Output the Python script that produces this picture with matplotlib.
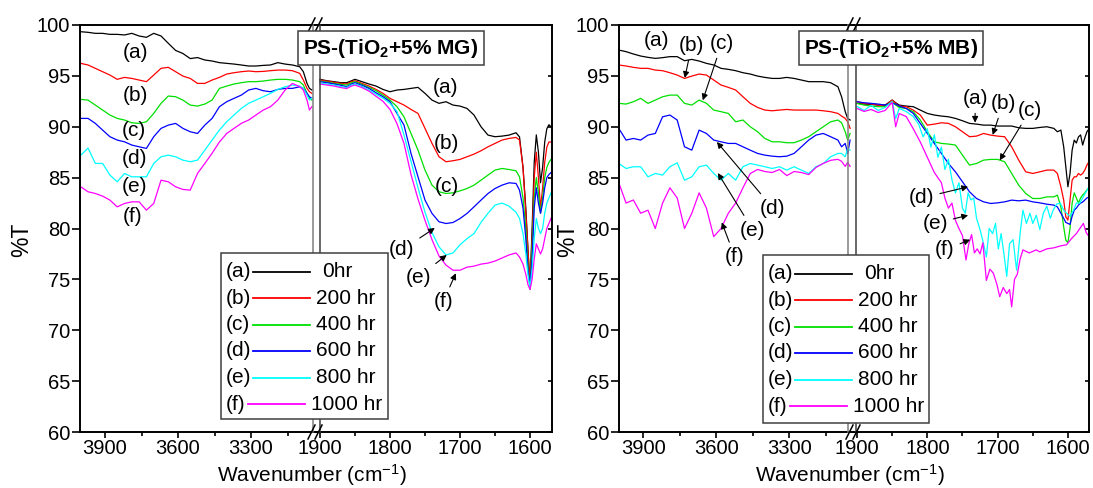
import matplotlib.pyplot as plt
from matplotlib.lines import Line2D
from matplotlib.patches import Rectangle

plt.rcParams['font.family'] = ['Liberation Sans', 'DejaVu Sans']
plt.rcParams['mathtext.fontset'] = 'custom'
plt.rcParams['mathtext.rm'] = 'Liberation Sans'
plt.rcParams['mathtext.it'] = 'Liberation Sans:italic'
plt.rcParams['mathtext.bf'] = 'Liberation Sans:bold'

#----------------------------------------------------------------------------
# FTIR spectra of PS-(TiO2+5% MG) and PS-(TiO2+5% MB) films, values read off
# the original figure. Left part 4000-3050 cm-1, right part 1900-1570 cm-1
#----------------------------------------------------------------------------
tags = ['(a)', '(b)', '(c)', '(d)', '(e)', '(f)']
hours = ['0hr', '200 hr', '400 hr', '600 hr', '800 hr', '1000 hr']
colors = ['black', 'red', '#00e000', 'blue', 'cyan', 'magenta']

wn_left = [4000, 3970, 3940, 3910, 3880, 3850, 3820, 3790, 3760, 3730, 3700, 3670,
           3640, 3610, 3580, 3550, 3520, 3490, 3460, 3430, 3400, 3370, 3340, 3310,
           3280, 3250, 3220, 3190, 3160, 3130, 3100, 3085, 3070, 3060, 3050]

# ---- PS-(TiO2+5% MG) ----
mg_l_a = [99.34, 99.28, 99.18, 99.18, 99.08, 99.08, 99.02, 99.18, 98.92, 98.79, 99.18, 98.92,
          98.20, 97.50, 97.20, 96.70, 96.80, 96.56, 96.46, 96.30, 96.23, 96.16, 96.07, 95.97,
          95.97, 96.03, 96.07, 96.30, 96.16, 96.07, 95.90, 95.41, 94.26, 93.77, 93.61]
mg_l_b = [96.23, 96.07, 95.74, 95.41, 95.08, 94.66, 94.85, 94.75, 94.59, 94.43, 95.08, 95.74,
          95.84, 95.41, 94.98, 94.75, 94.26, 94.26, 94.59, 94.85, 95.18, 95.31, 95.41, 95.48,
          95.41, 95.44, 95.51, 95.57, 95.57, 95.51, 95.25, 94.59, 93.77, 93.44, 93.28]
mg_l_c = [92.69, 92.62, 92.13, 91.64, 91.15, 90.82, 90.66, 90.39, 90.33, 90.49, 91.31, 92.30,
          93.02, 92.95, 92.62, 92.13, 92.03, 92.23, 92.62, 93.77, 94.00, 94.20, 94.33, 94.43,
          94.43, 94.49, 94.59, 94.66, 94.66, 94.59, 94.43, 94.10, 93.28, 92.79, 92.62]
mg_l_d = [90.82, 90.82, 90.33, 89.67, 89.02, 88.69, 88.52, 88.20, 88.03, 87.87, 89.02, 89.84,
          90.16, 90.33, 89.84, 89.51, 89.34, 90.16, 90.82, 91.97, 92.46, 92.79, 93.11, 93.61,
          93.77, 93.54, 93.44, 93.67, 93.77, 93.77, 93.93, 93.77, 93.28, 92.95, 92.79]
mg_l_e = [87.20, 87.90, 86.40, 86.39, 85.25, 84.59, 85.41, 85.08, 85.08, 85.08, 86.39, 87.05,
          87.21, 87.05, 86.72, 86.56, 86.72, 87.70, 88.69, 89.67, 90.49, 91.15, 91.80, 92.30,
          92.62, 92.95, 93.28, 93.67, 93.93, 94.10, 94.00, 93.77, 93.11, 92.62, 92.79]
mg_l_f = [84.10, 83.61, 83.44, 83.18, 82.79, 82.13, 82.46, 82.62, 82.62, 81.80, 82.46, 84.75,
          84.59, 84.10, 83.84, 83.77, 85.41, 86.39, 87.40, 88.50, 89.34, 89.84, 90.33, 90.66,
          91.15, 91.64, 91.97, 92.62, 93.61, 94.26, 93.93, 93.61, 92.62, 91.64, 91.97]

mg_wn_r = [1900, 1890, 1880, 1870, 1862, 1855, 1850, 1840, 1830, 1820, 1810, 1800,
           1790, 1780, 1770, 1760, 1750, 1740, 1730, 1720, 1710, 1700, 1690, 1680,
           1670, 1660, 1650, 1640, 1630, 1620, 1615, 1610, 1606, 1603, 1600, 1597,
           1594, 1591, 1588, 1585, 1582, 1579, 1576, 1573, 1570]
mg_r_a = [94.66, 94.52, 94.43, 94.33, 94.33, 94.52, 94.66, 94.43, 94.20, 94.00, 93.67, 93.44,
          93.61, 93.67, 93.77, 93.87, 93.28, 92.62, 92.30, 92.46, 92.13, 92.03, 91.80, 91.15,
          90.00, 89.18, 89.02, 89.08, 89.18, 89.41, 89.00, 86.00, 82.00, 78.00, 74.50, 80.00,
          86.50, 89.20, 87.50, 84.50, 86.00, 88.50, 89.80, 90.20, 90.00]
mg_r_b = [94.59, 94.49, 94.36, 94.26, 94.20, 94.43, 94.52, 94.26, 94.00, 93.67, 93.28, 92.79,
          92.46, 92.13, 91.70, 91.31, 89.84, 88.36, 87.05, 86.56, 86.66, 86.79, 87.05, 87.31,
          87.64, 88.03, 88.36, 88.69, 88.85, 88.95, 88.69, 86.00, 81.50, 78.00, 74.50, 79.00,
          85.00, 87.50, 85.00, 82.00, 84.00, 86.50, 88.00, 88.50, 88.50]
mg_r_c = [94.49, 94.39, 94.26, 94.16, 94.10, 94.33, 94.43, 94.16, 93.87, 93.54, 93.11, 92.62,
          91.97, 90.98, 89.34, 87.70, 85.74, 84.26, 83.61, 83.44, 83.51, 83.70, 83.93, 84.26,
          84.75, 85.25, 85.74, 85.90, 85.80, 85.67, 85.08, 83.00, 80.00, 76.50, 74.00, 78.00,
          83.00, 85.00, 83.50, 81.50, 83.00, 85.00, 86.00, 86.50, 86.80]
mg_r_d = [94.43, 94.33, 94.20, 94.07, 93.93, 94.20, 94.33, 94.07, 93.77, 93.34, 92.95, 92.46,
          91.31, 90.16, 87.38, 85.08, 82.79, 81.48, 80.66, 80.49, 80.59, 80.98, 81.48, 82.13,
          82.79, 83.44, 83.93, 84.26, 84.49, 84.43, 83.77, 82.00, 79.00, 76.00, 74.50, 77.00,
          82.00, 84.00, 82.50, 81.50, 82.50, 84.00, 85.00, 85.30, 85.50]
mg_r_e = [94.30, 94.20, 94.10, 93.95, 93.85, 94.10, 94.20, 93.95, 93.60, 93.20, 92.80, 92.30,
          91.50, 89.18, 86.60, 84.00, 81.60, 79.60, 78.20, 77.40, 77.60, 78.40, 79.00, 79.50,
          80.60, 81.50, 82.30, 82.50, 82.20, 81.60, 81.00, 79.50, 77.50, 75.50, 74.20, 76.00,
          79.00, 81.00, 80.00, 79.50, 80.00, 81.50, 82.50, 83.00, 83.50]
mg_r_f = [94.20, 94.10, 94.00, 93.85, 93.75, 94.00, 94.10, 93.85, 93.50, 93.00, 92.50, 91.70,
          90.30, 88.36, 85.30, 82.90, 80.80, 78.90, 77.30, 76.40, 75.90, 75.90, 76.20, 76.30,
          76.50, 76.60, 76.80, 77.10, 77.40, 77.60, 77.20, 76.50, 75.50, 74.50, 74.00, 75.00,
          77.00, 78.50, 78.00, 77.50, 78.00, 79.00, 80.00, 80.50, 81.00]

# ---- PS-(TiO2+5% MB) ----
mb_l_a = [97.54, 97.38, 97.15, 96.95, 96.82, 96.72, 96.79, 96.89, 96.89, 96.49, 96.62, 96.46,
          96.23, 96.07, 95.74, 95.64, 95.51, 95.31, 95.18, 94.98, 94.85, 94.75, 94.75, 94.85,
          94.75, 94.59, 94.43, 94.43, 94.43, 94.33, 93.93, 92.95, 91.48, 90.82, 90.66]
mb_l_b = [96.07, 95.97, 95.84, 95.74, 95.74, 95.57, 95.51, 95.31, 95.08, 94.75, 94.98, 95.18,
          95.08, 94.59, 94.10, 93.87, 93.61, 92.95, 92.30, 91.90, 91.64, 91.57, 91.64, 91.70,
          91.64, 91.64, 91.64, 91.64, 91.57, 91.48, 91.31, 91.05, 90.82, 90.49, 89.84]
mb_l_c = [92.30, 92.23, 92.46, 92.79, 92.30, 92.62, 92.95, 93.11, 93.11, 92.30, 92.13, 92.62,
          92.30, 91.64, 91.48, 91.31, 90.49, 90.66, 90.00, 89.51, 88.85, 88.52, 88.52, 88.43,
          88.43, 88.69, 89.02, 89.51, 90.00, 90.49, 90.66, 90.39, 89.51, 88.69, 89.34]
mb_l_d = [89.84, 88.69, 88.85, 88.69, 89.18, 89.34, 90.98, 91.15, 90.66, 88.03, 87.70, 89.67,
          89.34, 88.69, 88.52, 88.36, 88.36, 88.03, 87.70, 87.38, 87.21, 87.11, 87.05, 87.11,
          87.38, 88.03, 88.69, 89.18, 89.34, 89.02, 88.69, 88.03, 88.36, 87.38, 88.69]
mb_l_e = [86.39, 85.90, 86.07, 86.07, 85.08, 85.41, 85.25, 86.07, 86.46, 84.75, 85.08, 86.07,
          86.23, 85.41, 84.75, 85.41, 84.75, 86.07, 86.39, 86.23, 86.07, 85.90, 86.07, 85.74,
          86.07, 85.74, 85.41, 86.07, 86.39, 87.05, 87.38, 87.38, 87.05, 87.87, 87.70]
mb_l_f = [84.50, 82.50, 82.80, 81.50, 81.80, 80.00, 82.50, 84.00, 83.00, 80.00, 81.50, 83.50,
          82.00, 79.20, 80.00, 81.50, 82.50, 84.00, 85.40, 85.80, 85.60, 85.50, 85.80, 85.20,
          85.60, 85.50, 85.30, 86.00, 86.40, 86.70, 86.80, 86.60, 86.10, 86.50, 86.10]

mb_wn_r = [1900, 1890, 1880, 1870, 1860, 1850, 1845, 1840, 1830, 1820, 1810, 1800,
           1790, 1780, 1770, 1760, 1750, 1740, 1730, 1720, 1710, 1700, 1690, 1680,
           1670, 1660, 1650, 1640, 1630, 1620, 1615, 1610, 1606, 1603, 1600, 1597,
           1594, 1591, 1588, 1585, 1582, 1579, 1576, 1573, 1570]
mb_r_a = [92.30, 92.23, 92.20, 92.13, 92.13, 92.62, 92.36, 92.13, 92.03, 91.97, 91.64, 91.31,
          91.15, 91.05, 90.98, 90.82, 90.59, 90.33, 90.26, 90.16, 90.16, 90.07, 90.07, 90.07,
          89.90, 89.84, 89.84, 89.93, 90.00, 89.84, 89.51, 89.67, 88.03, 86.07, 84.10, 85.41,
          87.70, 88.69, 88.40, 89.00, 89.20, 88.20, 88.90, 89.50, 89.80]
mb_r_b = [92.46, 92.30, 92.23, 92.13, 92.03, 92.62, 92.30, 92.03, 91.97, 91.64, 91.15, 90.16,
          90.26, 90.39, 90.33, 90.00, 89.51, 89.02, 89.08, 89.34, 89.18, 89.08, 89.02, 88.03,
          86.72, 85.57, 85.41, 85.57, 85.74, 85.74, 85.41, 84.10, 82.79, 81.15, 80.82, 82.79,
          84.75, 85.08, 85.08, 85.41, 85.25, 85.41, 85.74, 86.23, 86.56]
mb_r_c = [92.30, 92.13, 92.03, 91.97, 91.97, 92.46, 92.13, 91.90, 91.80, 91.48, 90.66, 89.51,
          88.52, 88.36, 88.30, 88.20, 87.21, 86.23, 86.39, 86.72, 86.79, 86.79, 86.56, 85.41,
          84.26, 83.44, 82.95, 82.95, 83.11, 83.11, 83.28, 82.13, 80.16, 78.85, 78.60, 80.00,
          82.50, 83.50, 83.00, 82.50, 83.00, 83.30, 83.50, 83.80, 84.00]
mb_r_d = [92.46, 92.36, 92.30, 92.23, 92.13, 92.30, 92.23, 92.03, 91.80, 91.31, 90.33, 89.34,
          88.36, 87.38, 86.39, 85.57, 84.59, 83.61, 82.95, 82.62, 82.46, 82.52, 82.62, 82.79,
          82.72, 82.79, 82.62, 82.52, 82.39, 82.30, 82.13, 81.50, 81.00, 80.60, 80.50, 80.40,
          81.20, 81.80, 82.00, 82.30, 82.50, 82.60, 82.80, 83.00, 83.10]
mb_wn_r_e = [1900, 1890, 1880, 1870, 1860, 1850, 1845, 1840, 1830, 1820, 1812, 1806, 1800,
             1795, 1790, 1785, 1780, 1775, 1770, 1765, 1760, 1755, 1750, 1746, 1742, 1738,
             1734, 1730, 1725, 1720, 1716, 1712, 1707, 1703, 1699, 1695, 1691, 1687, 1683,
             1678, 1673, 1668, 1664, 1659, 1654, 1650, 1645, 1640, 1635, 1630, 1625, 1621,
             1616, 1611, 1606, 1602, 1597, 1592, 1588, 1583, 1579, 1575, 1570]
mb_r_e = [92.0, 91.6, 92.1, 91.6, 91.9, 92.5, 90.8, 91.8, 91.5, 91.0, 90.2, 89.0, 89.8,
          88.0, 89.2, 87.0, 88.0, 85.8, 86.8, 84.8, 83.5, 84.5, 82.0, 81.5, 83.5, 82.8,
          83.0, 81.0, 79.9, 78.5, 77.2, 80.0, 79.5, 80.5, 78.0, 79.5, 77.5, 75.3, 78.5,
          78.9, 75.9, 79.5, 81.8, 80.5, 81.5, 80.5, 81.3, 79.9, 81.5, 82.2, 81.0, 81.8,
          82.4, 82.5, 81.8, 81.5, 81.2, 81.8, 82.5, 82.5, 83.0, 83.5, 84.1]
mb_wn_r_f = [1900, 1890, 1880, 1870, 1860, 1850, 1845, 1840, 1830, 1820, 1810, 1800, 1790,
             1785, 1780, 1775, 1770, 1765, 1760, 1755, 1750, 1745, 1741, 1737, 1733, 1729,
             1725, 1721, 1716, 1711, 1706, 1701, 1697, 1692, 1687, 1683, 1680, 1676, 1672,
             1668, 1664, 1655, 1645, 1640, 1630, 1620, 1610, 1602, 1595, 1588, 1583, 1578,
             1574, 1570]
mb_r_f = [91.8, 91.5, 91.7, 91.4, 91.6, 92.4, 90.0, 91.3, 91.0, 89.8, 88.5, 87.0, 85.5,
          85.0, 84.5, 83.0, 82.0, 82.5, 80.8, 80.0, 79.3, 76.9, 78.5, 79.4, 77.6, 78.0,
          77.5, 78.6, 74.9, 76.0, 75.6, 74.5, 73.3, 74.2, 73.6, 74.0, 72.3, 75.0, 75.5,
          77.0, 77.9, 77.6, 77.9, 77.7, 78.0, 78.1, 78.3, 78.4, 79.0, 79.5, 80.0, 80.5,
          79.6, 79.2]

#----------------------------------------------------------------------------
W, H = 1093, 488
TOP, BOT = 25, 432
fig = plt.figure(figsize=(W / 100, H / 100), dpi=100)


def fx(x):
    return x / W


def fy(y):
    return 1 - y / H


def fig_line(xs, ys, **kw):
    fig.add_artist(Line2D([fx(v) for v in xs], [fy(v) for v in ys],
                          transform=fig.transFigure, **kw))


def panel(x0, xb, x1, lim_l, lim_r, left, right, vl):
    ax1 = fig.add_axes([fx(x0), fy(BOT), (xb - x0) / W, (BOT - TOP) / H])
    ax2 = fig.add_axes([fx(xb), fy(BOT), (x1 - xb) / W, (BOT - TOP) / H], sharey=ax1)
    for (x, y), c in zip(left, colors):
        ax1.plot(x, y, color=c, lw=0.9)
    for (x, y), c in zip(right, colors):
        ax2.plot(x, y, color=c, lw=0.9)
    ax1.set_xlim(*lim_l)
    ax2.set_xlim(*lim_r)
    ax1.set_ylim(60, 100)
    ax1.set_yticks(range(60, 101, 5))
    ax1.set_xticks([3900, 3600, 3300])
    ax1.set_xticks([3750, 3450, 3150], minor=True)
    ax2.set_xticks([1900, 1800, 1700, 1600])
    ax2.set_xticks([1850, 1750, 1650], minor=True)
    for ax in (ax1, ax2):
        for s in ax.spines.values():
            s.set_linewidth(1.4)
        ax.tick_params(axis='x', which='major', direction='out', length=4.5, width=1.2,
                       labelsize=14.5, pad=0.3, top=False)
        ax.tick_params(axis='x', which='minor', direction='out', length=3, width=1.2, top=False)
    ax1.spines['right'].set_visible(False)
    ax2.spines['left'].set_visible(False)
    ax1.tick_params(axis='y', direction='out', length=5.5, width=1.2, labelsize=14.5, pad=1.5,
                    right=False)
    ax2.tick_params(axis='y', left=False, labelleft=False, right=True, direction='in',
                    length=3, width=1.2)
    # break gap lines and // marks
    for xv, c in zip(vl, ['#7f7f7f', '#404040']):
        fig_line([xv, xv], [TOP, BOT], color=c, lw=1.1, zorder=2)
    for yv in (TOP, BOT):
        fig_line([xb - 8, xb - 1], [yv + 7, yv - 7], color='k', lw=1.1, zorder=2)
        fig_line([xb - 1, xb + 6], [yv + 7, yv - 7], color='k', lw=1.1, zorder=2)
    return ax1, ax2


def legend(x0, y0, w, h):
    fig.add_artist(Rectangle((fx(x0), fy(y0 + h)), w / W, h / H, transform=fig.transFigure,
                             fc='white', ec='#404040', lw=1.1, zorder=4))
    for i, (t, lab, c) in enumerate(zip(tags, hours, colors)):
        yy = y0 + 18.5 + i * 26.5
        shift = -5 if len(lab) > 6 else 0
        fig.text(fx(x0 + 5), fy(yy), t, ha='left', va='center', fontsize=15, zorder=5)
        fig_line([x0 + 32 + shift, x0 + 89 + shift], [yy, yy], color=c, lw=1.3, zorder=5)
        lx = x0 + 95 + (6 if lab == '0hr' else 0) + shift
        fig.text(fx(lx), fy(yy), lab, ha='left', va='center', fontsize=15, zorder=5)


def title(xc, txt):
    fig.text(fx(xc), fy(48), txt, ha='center', va='center', fontsize=15, fontweight='bold',
             zorder=6, bbox=dict(boxstyle='square,pad=0.25', fc='white', ec='#404040', lw=1.1))


def label(ax, txt, xy, xytext=None):
    if xytext is None:
        ax.text(xy[0], xy[1], txt, ha='center', va='center', fontsize=15)
    else:
        ax.annotate(txt, xy=xy, xytext=xytext, ha='center', va='center', fontsize=15,
                    arrowprops=dict(arrowstyle='-|>', color='k', lw=0.8, mutation_scale=9,
                                    shrinkB=0))


# ---- left panel: MG ----
mg1, mg2 = panel(80, 316, 552, (4003, 3033), (1905.7, 1568.6),
                 [(wn_left, mg_l_a), (wn_left, mg_l_b), (wn_left, mg_l_c),
                  (wn_left, mg_l_d), (wn_left, mg_l_e), (wn_left, mg_l_f)],
                 [(mg_wn_r, mg_r_a), (mg_wn_r, mg_r_b), (mg_wn_r, mg_r_c),
                  (mg_wn_r, mg_r_d), (mg_wn_r, mg_r_e), (mg_wn_r, mg_r_f)],
                 (313, 320))
for t, pos in zip(tags, [(3773, 97.25), (3777, 93.1), (3781, 89.6), (3781, 86.9),
                         (3781, 84.1), (3789, 81.2)]):
    label(mg1, t, pos)
label(mg2, '(a)', (1721, 93.9))
label(mg2, '(b)', (1719, 88.4))
label(mg2, '(c)', (1719, 84.1))
label(mg2, '(d)', (1736, 80.05), (1783, 77.9))
label(mg2, '(e)', (1719, 77.4), (1760, 75.2))
label(mg2, '(f)', (1706, 75.6), (1724, 72.8))
title(391, r'PS-(TiO$_\mathbf{2}$+5% MG)')
legend(221, 253, 167, 166)
fig.text(fx(312), fy(487.6), r'Wavenumber (cm$^{-1}$)', ha='center', va='bottom', fontsize=15)
fig.text(fx(22), fy(240), '%T', ha='center', va='center', rotation=90, fontsize=16.5)

# ---- right panel: MB ----
mb1, mb2 = panel(619, 854, 1089, (3999, 3034), (1904.3, 1570),
                 [(wn_left, mb_l_a), (wn_left, mb_l_b), (wn_left, mb_l_c),
                  (wn_left, mb_l_d), (wn_left, mb_l_e), (wn_left, mb_l_f)],
                 [(mb_wn_r, mb_r_a), (mb_wn_r, mb_r_b), (mb_wn_r, mb_r_c),
                  (mb_wn_r, mb_r_d), (mb_wn_r_e, mb_r_e), (mb_wn_r_f, mb_r_f)],
                 (848, 856))
label(mb1, '(a)', (3844, 98.5))
label(mb1, '(b)', (3729, 94.8), (3700, 98.0))
label(mb1, '(c)', (3655, 92.6), (3577, 98.2))
label(mb1, '(d)', (3597, 88.5), (3367, 82.0))
label(mb1, '(e)', (3593, 85.45), (3449, 79.85))
label(mb1, '(f)', (3577, 80.6), (3523, 77.2))
label(mb2, '(a)', (1732, 90.4), (1732, 92.8))
label(mb2, '(b)', (1707, 89.2), (1692, 92.3))
label(mb2, '(c)', (1697, 86.7), (1654, 91.6))
label(mb2, '(d)', (1742, 84.1), (1808, 83.0))
label(mb2, '(e)', (1742, 81.3), (1789, 80.5))
label(mb2, '(f)', (1739, 78.9), (1775, 77.9))
title(891, r'PS-(TiO$_\mathbf{2}$+5% MB)')
legend(763, 255, 166, 168)
fig.text(fx(850), fy(487.6), r'Wavenumber (cm$^{-1}$)', ha='center', va='bottom', fontsize=15)
fig.text(fx(568), fy(240), '%T', ha='center', va='center', rotation=90, fontsize=16.5)

fig.savefig('out.png', dpi=100)
